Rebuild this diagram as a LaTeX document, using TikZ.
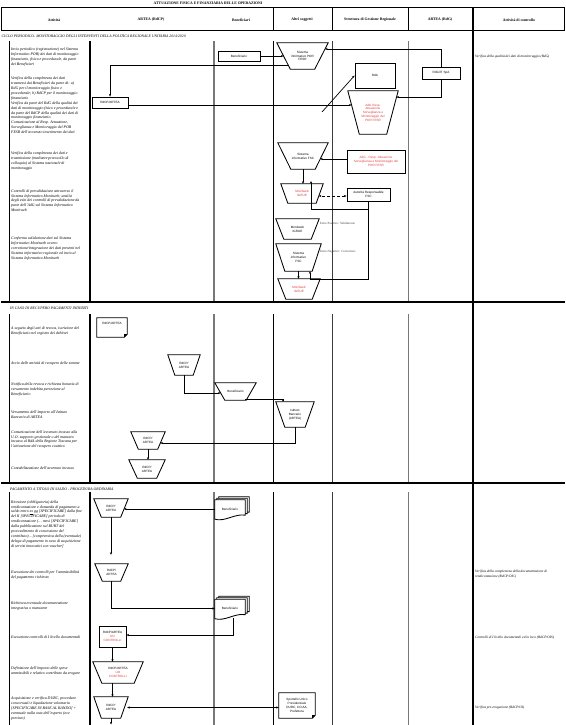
\documentclass[tikz,border=0pt]{standalone}
\usepackage{fontspec}
\setmainfont{Liberation Serif}
\setsansfont{Liberation Sans}
\usetikzlibrary{calc,arrows.meta}
\pgfdeclarelayer{lanes}
\pgfdeclarelayer{shapes}
\pgfsetlayers{lanes,shapes,main}

\definecolor{txtred}{RGB}{224,58,58}
\definecolor{lanegray}{RGB}{120,120,120}
\definecolor{lanedark}{RGB}{60,60,60}

\newcommand\actfont{\fontsize{3.9}{4.9}\selectfont\itshape}
\newcommand\ctlfont{\fontsize{3.5}{4.6}\selectfont\itshape}
\newcommand\boxfont{\sffamily\fontsize{3.1}{3.8}\selectfont}
\newcommand\hdfont{\fontsize{3.8}{4.5}\selectfont\bfseries}
\newcommand\secfont{\fontsize{3.8}{4.5}\selectfont\itshape}

\tikzset{
  shapeline/.style={draw=black, line width=0.85pt, line join=miter},
  box/.style={draw=black, line width=0.85pt, rectangle, inner sep=0pt, align=center, font=\boxfont},
  tnode/.style={rectangle, inner sep=0pt, align=center, font=\boxfont},
  conn/.style={line width=0.7pt, -{Stealth[length=2.6pt,width=2.2pt]}},
  biconn/.style={line width=0.7pt, {Stealth[length=2.6pt,width=2.2pt]}-{Stealth[length=2.6pt,width=2.2pt]}},
  acttext/.style={anchor=north west, align=left, inner sep=0pt, font=\actfont},
  ctltext/.style={anchor=north west, align=left, inner sep=0pt, font=\ctlfont},
  lbltext/.style={anchor=west, inner sep=0pt, text=black!75, font=\fontsize{3.2}{3.8}\selectfont},
  hdtext/.style={font=\hdfont, inner sep=0pt},
  sectitle/.style={anchor=west, inner sep=0pt, font=\secfont},
  lane/.style={line width=1pt},
}

% inverted trapezium: [options]{name}{centre}{top width}{height}{inset of lower corners}{text}
\newcommand\trapnode[7][]{%
  \node[tnode,#1,minimum width=#4pt,minimum height=#5pt] (#2) at (#3) {#7};
  \begin{pgfonlayer}{shapes}
    \draw[shapeline] (#2.north west) -- (#2.north east)
      -- ([xshift=-#6pt]#2.south east) -- ([xshift=#6pt]#2.south west) -- cycle;
  \end{pgfonlayer}}

% stack of three documents with wavy lower edge: {name}{centre}{text}
\newcommand\multidoc[3]{%
  \node[tnode,minimum width=30pt,minimum height=18pt] (#1) at (#2) {#3};
  \begin{pgfonlayer}{shapes}
    \foreach \dx/\dy in {4/-3,2/-1.5,0/0}{
      \draw[shapeline, fill=white] ($(#1.north west)+(\dx,\dy)$) -- ($(#1.north east)+(\dx,\dy)$)
        -- ($(#1.south east)+(\dx,\dy-3)$)
        .. controls ($(#1.south east)+(\dx-10,\dy-5)$) and ($(#1.south west)+(\dx+10,\dy+4)$)
        .. ($(#1.south west)+(\dx,\dy+1)$) -- cycle;}
  \end{pgfonlayer}}

% document with a turned-down corner: [options]{name}{centre}{width}{height}{text}
\newcommand\folddoc[6][]{%
  \node[tnode,#1,minimum width=#4pt,minimum height=#5pt] (#2) at (#3) {#6};
  \begin{pgfonlayer}{shapes}
    \draw[shapeline] (#2.north west) -- (#2.north east) -- ($(#2.south east)+(0,-3)$)
      -- ($(#2.south east)+(-3,0)$) -- (#2.south west) -- cycle;
    \fill ($(#2.south east)+(0,-3)$) -- ($(#2.south east)+(-3,0)$) -- ($(#2.south east)+(-3,-3)$) -- cycle;
  \end{pgfonlayer}}

\begin{document}
\begin{tikzpicture}[x=1pt,y=-1pt]
\useasboundingbox (0,0) rectangle (565,725);

% ---------- heading ----------
\node[hdtext] (title) at (208,3.4) {ATTUAZIONE FISICA E FINANZIARIA DELLE OPERAZIONI};
\draw[line width=0.9pt] (1.5,7.5) rectangle (564.5,30.5);
\foreach \x in {273,332,408}{\draw[line width=0.9pt] (\x,7.5) -- (\x,30.5);}
\node[hdtext] (h1) at (54,20) {Attività};
\node[hdtext] (h2) at (151,20) {ARTEA (RdCP)};
\node[hdtext] (h3) at (241,20) {Beneficiari};
\node[hdtext] (h4) at (302,20) {Altri soggetti};
\node[hdtext] (h5) at (370,20) {Struttura di Gestione Regionale};
\node[hdtext] (h6) at (440,20) {ARTEA (RdG)};
\node[hdtext] (h7) at (519,20) {Attività di controllo};

% ---------- swimlanes ----------
\begin{pgfonlayer}{lanes}
  \foreach \ya/\yb in {41/302,314/483,492/725}{
    \draw[lane] (9,\ya) -- (9,\yb);
    \draw[lane, line width=1.2pt] (90,\ya) -- (90,\yb);
    \draw[lane, lanegray, line width=1.2pt] (214,\ya) -- (214,\yb);
    \draw[lane] (273,\ya) -- (273,\yb);
    \draw[lane, lanedark] (332,\ya) -- (332,\yb);
    \draw[lane, lanegray] (408,\ya) -- (408,\yb);
  }
  \draw[lane, line width=1.1pt] (473,7.5) -- (473,725);
  \draw[lane, line width=1.1pt] (1,302) -- (565,302);
  \draw[lane, line width=1.1pt] (1,483) -- (565,483);
\end{pgfonlayer}

% ---------- periodic monitoring cycle ----------
\node[sectitle] (sec1) at (1.5,36) {CICLO PERIODICO- MONITORAGGIO DEGLI INTERVENTI DELLA POLITICA REGIONALE UNITARIA 2014/2020};

\node[acttext] (a11) at (11,47.5) {Invio periodico (registrazione) nel Sistema\\Informativo POR) dei dati di monitoraggio\\finanziario, fisico e procedurale, da parte\\dei Beneficiari};
\node[acttext] (a12) at (11,76.8) {Verifica della completezza dei dati\\trasmessi dai Beneficiari da parte di: a)\\RdG per il monitoraggio fisico e\\procedurale; b) RdCP per il monitoraggio\\finanziario\\Verifica da parte del RdG della qualità dei\\dati di monitoraggio fisico e procedurale e\\da parte del RdCP della qualità dei dati di\\monitoraggio finanziario.\\Comunicazione al Resp. Attuazione,\\Sorveglianza e Monitoraggio del POR\\FESR dell'avvenuto inserimento dei dati};
\node[acttext] (a13) at (11,151.8) {Verifica della completezza dei dati e\\trasmissione (mediante protocollo di\\colloquio) al Sistema nazionale di\\monitoraggio};
\node[acttext] (a14) at (11,189.2) {Controlli di prevalidazione attraverso il\\Sistema Informativo Monitweb; analisi\\degli esiti dei controlli di prevalidazione da\\parte dell'AdG sul Sistema Informativo\\Monitweb};
\node[acttext] (a15) at (11,236.8) {Conferma validazione dati sul Sistema\\Informativo Monitweb ovvero\\correzione/integrazione dei dati presenti nel\\Sistema informativo regionale ed invio al\\Sistema Informativo Monitweb};
\node[ctltext] (c1) at (475,55.2) {Verifica della qualità dei dati di monitoraggio (RdG)};

\node[box, minimum width=42pt, minimum height=10pt] (ben1) at (239,56) {Beneficiario};
\trapnode{sysA}{302.5,56}{51}{26}{13.5}{Sistema\\informativo POR\\FESR}
\node[box, minimum width=36pt, minimum height=11pt] (rdcp1) at (110,102.5) {RdCP/ARTEA};
\node[box, minimum width=38pt, minimum height=12pt] (rdgit) at (441,73) {RdG/IT SpA};
\node[box, minimum width=40pt, minimum height=25pt] (rda) at (375,75.5) {RdA};
\trapnode[text=txtred]{adg1}{373,112.5}{50}{43}{11.5}{AdG Resp.\\Attuazione\\Sorveglianza e\\Monitoraggio del\\POR FESR}
\trapnode{sysF1}{303,156}{50}{26}{13}{Sistema\\informativo FSC}
\node[box, text=txtred, minimum width=58pt, minimum height=23pt] (adg2) at (376,161.5) {AdG - Resp. Attuazione\\Sorveglianza e Monitoraggio del\\POR FESR};
\trapnode[text=txtred]{mw1}{302,193.5}{42}{19}{7}{Monitweb\\IGRUE}
\node[box, minimum width=43pt, minimum height=13pt] (arfsc) at (368.5,194.5) {Autorità Responsabile\\FSC};
\trapnode{mw2}{297.5,229}{43}{20}{8}{Monitweb\\IGRUE}
\node[lbltext] (lpos) at (320,223) {Esito Positivo: Validazione};
\trapnode{sysF2}{298.5,257.5}{45}{27}{9}{Sistema\\informativo\\FSC}
\node[lbltext] (lneg) at (320,252) {Esito Negativo: Correzione};
\trapnode[text=txtred]{mw3}{299,289}{42}{20}{8}{Monitweb\\IGRUE}
\coordinate (d1) at (322,112);
\coordinate (j1) at (311,181);

\draw[conn] (ben1.east) -- ($(sysA.west)+(6.8,0)$);
\draw[conn] ($(sysA.west)+(11.4,9)$) -| (rdcp1.north);
\draw[conn] ($(rdcp1.east)+(0,2.5)$) -- ($(adg1.west)+(3.7,-7.5)$);
\draw[conn] (d1) -- (rda.west);
\draw[conn] (rdgit.north) |- ($(sysA.east)+(-3.1,-7)$);
\draw[conn] (rdgit.south) |- ($(adg1.east)+(-1.7,-15.5)$);
\draw[conn] ($(adg2.west)+(0,-2.5)$) -- ($(sysF1.east)+(-8,3)$);
\draw[conn] (sysF1.south) -- (sysF1.south |- mw1.north);
\draw[biconn, densely dashed] ($(arfsc.west)+(0,1.5)$) -- ($(mw1.east)+(-4.4,2.5)$);
\draw[conn] (arfsc.south) -- ++(0,8) -| (j1);
\draw[conn] (arfsc.south) -- ++(0,78) -| ($(sysF2.south)+(11.5,0)$);
\draw[conn] (sysF2.south) -- (sysF2.south |- mw3.north);

% ---------- recovery of undue payments ----------
\node[sectitle] (sec2) at (10,308) {IN CASO DI RECUPERO PAGAMENTI INDEBITI};
\node[acttext] (a21) at (11,326.8) {A seguito degli atti di revoca, iscrizione del\\Beneficiario nel registro dei debitori};
\node[acttext] (a22) at (11,361.8) {Avvio delle attività di recupero delle somme};
\node[acttext] (a23) at (11,382.8) {Notifica della revoca e richiesta bonaria di\\versamento indebita percezione al\\Beneficiario};
\node[acttext] (a24) at (11,410.2) {Versamento dell'importo all'Istituto\\Bancario di ARTEA};
\node[acttext] (a25) at (11,430.2) {Comunicazione dell'avvenuto incasso alla\\U.O. supporto gestionale o del mancato\\incasso al RdA della Regione Toscana per\\l'attivazione del recupero coattivo};
\node[acttext] (a26) at (11,466.8) {Contabilizzazione dell'avvenuto incasso};

\folddoc[text depth=8pt]{rdcpdoc}{112,327.5}{30}{19}{RdCP/ARTEA}
\trapnode{t2a}{184,365}{32}{20}{7}{RdCP/\\ARTEA}
\trapnode{ben2}{235.5,391.5}{41}{17}{10}{Beneficiario}
\trapnode{ist}{295,414.5}{38}{25}{9}{Istituto\\Bancario\\(ARTEA)}
\trapnode{t2b}{148,440.5}{34}{17}{7.5}{RdCP/\\ARTEA}
\trapnode{t2c}{147,469}{36}{18}{8.5}{RdCP/\\ARTEA}

\draw[conn] (t2a.south) |- ($(ben2.west)+(5.9,1.5)$);
\draw[conn] ($(ben2.south)+(9.5,-0.5)$) -| ($(ist.north)+(-12,0)$);
\draw[conn] (ist.south) |- ($(t2b.east)+(-4.9,2.5)$);
\draw[conn] (t2b.south) -- (t2b.south |- t2c.north);

% ---------- final balance payment ----------
\node[sectitle] (sec3) at (10,489) {PAGAMENTO A TITOLO DI SALDO - PROCEDURA ORDINARIA};
\node[acttext] (a31) at (11,500.2) {Ricezione (obbligatoria) della\\rendicontazione e domanda di pagamento a\\saldo entro \underline{xx} gg [SPECIFICARE] dalla fine\\del II [SPECIFICARE] periodo di\\rendicontazione (… mesi [SPECIFICARE]\\dalla pubblicazione sul BURT del\\provvedimento di concessione del\\contributo) – [comprensiva della (eventuale)\\delega di pagamento in caso di acquisizione\\di servizi innovativi con voucher]};
\node[acttext] (a32) at (11,570.2) {Esecuzione dei controlli per l'ammissibilità\\del pagamento richiesto};
\node[acttext] (a33) at (11,601.8) {Richiesta eventuale documentazione\\integrativa o mancante};
\node[acttext] (a34) at (11,635.8) {Esecuzione controlli di I livello documentali};
\node[acttext] (a35) at (11,666.8) {Definizione dell'importo delle spese\\ammissibili e relativo contributo da erogare};
\node[acttext] (a36) at (11,696.8) {Acquisizione e verifica DURC, procedure\\concorsuali e liquidazione volontaria\\{}[SPECIFICARE IN BASE AL BANDO] +\\eventuale nulla osta dell'esperto (ove\\previsto)};
\node[ctltext] (c2) at (475,570.2) {Verifica della completezza della documentazione di\\rendicontazione (RdCP/OIC)};
\node[ctltext] (c3) at (475,635.8) {Controlli di I livello documentali ed in loco (RdCP/OIS)};
\node[ctltext] (c4) at (475,705.8) {Verifica pre-erogazione (RdCP/OI)};

\trapnode{t3a}{111,508}{34}{18}{7.5}{RdCP/\\ARTEA}
\multidoc{bend1}{230,509}{Beneficiario}
\trapnode{t3b}{111.5,572.5}{33}{17}{7.5}{RdCP/\\ARTEA}
\multidoc{bend2}{230,608.5}{Beneficiario}
\node[box, minimum width=27pt, minimum height=21pt] (ctrl1) at (112.5,636.5) {RdCP/ARTEA\\\textcolor{txtred}{UO}\\\textcolor{txtred}{CONTROLLI}};
\trapnode{t3c}{118,672.5}{50}{21}{9}{RdCP/ARTEA\\\textcolor{txtred}{UO}\\\textcolor{txtred}{CONTROLLI}}
\trapnode{t3d}{111,707.5}{34}{21}{7.5}{RdCP/\\ARTEA}
\folddoc{sport}{297,705.5}{36}{25}{Sportello Unico\\Previdenziale\\DURC, CCIAA,\\Prefettura}
\coordinate (endc) at (110,724.5);

\draw[conn] (bend1.west) -- ($(t3a.east)+(-4.2,1)$);
\draw[conn] (t3a.south) -- ($(t3a.south |- t3b.north)+(0,-9)$);
\draw[conn] (t3b.south) |- (bend2.west);
\draw[conn] ($(bend2.south)+(3,0)$) |- ($(ctrl1.east)+(0,-1.5)$);
\draw[conn] (ctrl1.south) -- (ctrl1.south |- t3c.north);
\draw[conn] (ctrl1.south |- t3c.south) -- (ctrl1.south |- t3d.north);
\draw[conn] (t3d.south) -- (t3d.south |- endc);
\draw[biconn] ($(t3d.east)+(-1,0)$) -- (t3d.east -| sport.west);
\end{tikzpicture}
\end{document}
